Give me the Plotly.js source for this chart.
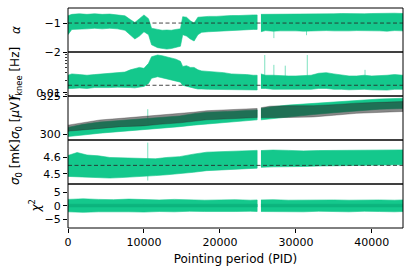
<!DOCTYPE html>
<html>
<head>
<meta charset="utf-8">
<script src="https://cdn.plot.ly/plotly-3.0.1.min.js"></script>
<style>html,body{margin:0;padding:0;background:#fff;}#chart{width:412px;height:273px;}</style>
</head>
<body>
<div id="chart"></div>
<script>
// ---------- DATA ----------
// x ticks
const xTickVals = [0, 10000, 20000, 30000, 40000];
const xTickText = ['0', '10000', '20000', '30000', '40000'];

// Panel 1 & 2 sample PIDs (segment before and after the gap near PID 25000)
const pidA = [0, 500, 1500, 2500, 3500, 4500, 5500, 6500, 7500, 8200, 8800, 9400, 10000, 10600, 11000, 11800, 12400, 13000, 13600, 14200, 14800, 15100, 15600, 16100, 16600, 17100, 17600, 18500, 19500, 20500, 21500, 22500, 23500, 24400, 24900];
const pidB = [25400, 26000, 27000, 28000, 29000, 30000, 31000, 32000, 33000, 34000, 35000, 36000, 37000, 38000, 39000, 40000, 41000, 42000, 43000, 44100];

// alpha envelope
const alphaHiA = [-0.75, -0.70, -0.68, -0.70, -0.68, -0.70, -0.69, -0.72, -0.75, -0.88, -0.98, -0.85, -0.72, -0.85, -1.18, -1.22, -1.25, -1.24, -1.25, -1.22, -1.20, -0.78, -0.80, -0.92, -1.00, -0.80, -0.78, -0.77, -0.77, -0.75, -0.74, -0.74, -0.72, -0.72, -0.72];
const alphaLoA = [-1.40, -1.22, -1.20, -1.20, -1.18, -1.20, -1.18, -1.20, -1.25, -1.40, -1.55, -1.45, -1.30, -1.40, -1.75, -1.85, -1.88, -1.90, -1.88, -1.85, -1.80, -1.40, -1.45, -1.55, -1.62, -1.40, -1.32, -1.30, -1.28, -1.26, -1.25, -1.24, -1.23, -1.22, -1.22];
const alphaHiB = [-0.70, -0.70, -0.68, -0.68, -0.70, -0.69, -0.68, -0.70, -0.68, -0.70, -0.68, -0.67, -0.68, -0.67, -0.68, -0.67, -0.66, -0.67, -0.66, -0.67];
const alphaLoB = [-1.30, -1.26, -1.28, -1.27, -1.26, -1.27, -1.28, -1.28, -1.27, -1.26, -1.27, -1.28, -1.27, -1.26, -1.27, -1.26, -1.27, -1.28, -1.26, -1.27];
const alphaRef = -1.0;
const alphaSpikePid = [27100, 31400];
const alphaSpikeFrom = [-1.1, -1.1];
const alphaSpikeTo = [-1.52, -1.42];

// f_knee envelope [Hz]
const fHiA = [0.026, 0.028, 0.027, 0.026, 0.027, 0.028, 0.028, 0.029, 0.031, 0.035, 0.038, 0.040, 0.038, 0.050, 0.072, 0.079, 0.076, 0.071, 0.066, 0.063, 0.056, 0.042, 0.044, 0.040, 0.040, 0.035, 0.033, 0.032, 0.032, 0.030, 0.028, 0.028, 0.027, 0.026, 0.026];
const fLoA = [0.0126, 0.0126, 0.0129, 0.0126, 0.0132, 0.0132, 0.0132, 0.0135, 0.0135, 0.0132, 0.0130, 0.0135, 0.0141, 0.0166, 0.022, 0.024, 0.0234, 0.0219, 0.020, 0.019, 0.0178, 0.0150, 0.0140, 0.0135, 0.0128, 0.0122, 0.0122, 0.0120, 0.0118, 0.0118, 0.0116, 0.0118, 0.0116, 0.0116, 0.0116];
const fHiB = [0.028, 0.026, 0.026, 0.025, 0.025, 0.025, 0.026, 0.026, 0.029, 0.030, 0.028, 0.026, 0.025, 0.025, 0.026, 0.025, 0.025, 0.026, 0.027, 0.026];
const fLoB = [0.0126, 0.0126, 0.0120, 0.0117, 0.0117, 0.0120, 0.0120, 0.0120, 0.0126, 0.0126, 0.0120, 0.0120, 0.0117, 0.0117, 0.0120, 0.0117, 0.0115, 0.0115, 0.0120, 0.0120];
const fRef = 0.015;
const fSpikePid = [25900, 27100, 28600, 31500, 39100];
const fSpikeFrom = [0.02, 0.02, 0.02, 0.02, 0.02];
const fSpikeTo = [0.079, 0.046, 0.044, 0.079, 0.035];

// sigma0 [uV]: green and grey series
const pid3A = [0, 2000, 4200, 7000, 9900, 12000, 14700, 16500, 18250, 21000, 23000, 24900];
const pid3B = [25400, 26600, 29000, 32300, 35000, 38000, 41000, 44100];
const uvGreenLoA = [298.5, 299.5, 300.7, 302.0, 303.0, 304.0, 305.0, 306.0, 307.0, 308.0, 308.8, 309.5];
const uvGreenHiA = [304.5, 306.5, 308.0, 309.0, 310.0, 311.0, 312.0, 313.5, 314.5, 315.0, 315.5, 316.0];
const uvGreenLoB = [309.5, 310.0, 311.5, 313.0, 314.2, 315.5, 316.5, 317.0];
const uvGreenHiB = [317.0, 318.0, 319.2, 320.4, 321.5, 322.6, 323.2, 323.7];
const uvGreyLoA = [302.0, 303.0, 304.0, 305.0, 305.5, 306.5, 307.5, 308.5, 309.5, 310.0, 310.5, 311.0];
const uvGreyHiA = [306.0, 307.8, 309.4, 310.5, 311.6, 312.5, 313.8, 314.5, 315.5, 316.0, 316.5, 317.0];
const uvGreyLoB = [311.0, 311.0, 311.0, 311.4, 312.5, 313.8, 314.5, 315.0];
const uvGreyHiB = [317.5, 318.5, 318.8, 318.8, 319.5, 320.5, 321.0, 321.5];
const uvSpikePid = [10500];
const uvSpikeFrom = [305];
const uvSpikeTo = [316.5];

// sigma0 [mK]
const pid4A = [0, 1200, 2500, 4000, 5500, 7000, 8500, 10000, 11500, 13000, 14700, 16500, 18250, 20000, 22000, 24900];
const pid4B = [25400, 27000, 29000, 31000, 33000, 35000, 37000, 39000, 41000, 44100];
const mkLoA = [4.485, 4.480, 4.480, 4.478, 4.475, 4.478, 4.480, 4.485, 4.490, 4.495, 4.500, 4.510, 4.520, 4.525, 4.530, 4.535];
const mkHiA = [4.612, 4.630, 4.615, 4.610, 4.600, 4.598, 4.595, 4.590, 4.592, 4.600, 4.605, 4.620, 4.632, 4.635, 4.640, 4.643];
const mkLoB = [4.540, 4.543, 4.545, 4.545, 4.548, 4.550, 4.552, 4.553, 4.555, 4.556];
const mkHiB = [4.642, 4.645, 4.643, 4.640, 4.642, 4.643, 4.645, 4.645, 4.644, 4.646];
const mkRef = 4.552;
const mkSpikePid = [10500];
const mkSpikeFrom = [4.46];
const mkSpikeTo = [4.69];

// chi^2
const pid5A = [0, 2000, 4000, 6000, 8000, 10000, 12000, 14000, 16000, 18000, 20000, 22000, 24000, 24900];
const pid5B = [25400, 27000, 29000, 31000, 33000, 35000, 37000, 39000, 41000, 43000, 44100];
const chiHiA = [2.4, 2.6, 2.4, 2.3, 2.5, 2.3, 2.2, 2.4, 2.2, 2.1, 2.2, 2.3, 2.1, 2.2];
const chiLoA = [-2.2, -2.4, -2.2, -2.1, -2.2, -2.3, -2.1, -2.2, -2.0, -2.1, -2.2, -2.1, -2.0, -2.1];
const chiHiB = [2.2, 2.3, 2.1, 2.2, 2.1, 2.2, 2.1, 2.2, 2.2, 2.1, 2.2];
const chiLoB = [-2.1, -2.0, -2.1, -2.2, -2.0, -2.1, -2.2, -2.0, -2.1, -2.2, -2.1];
const chiCoreHiA = [0.6, 0.7, 0.6, 0.6, 0.7, 0.6, 0.6, 0.6, 0.6, 0.6, 0.6, 0.6, 0.6, 0.6];
const chiCoreLoA = [-0.4, -0.5, -0.4, -0.4, -0.4, -0.5, -0.4, -0.4, -0.4, -0.4, -0.4, -0.4, -0.4, -0.4];
const chiCoreHiB = [0.6, 0.6, 0.6, 0.6, 0.6, 0.6, 0.6, 0.6, 0.6, 0.6, 0.6];
const chiCoreLoB = [-0.4, -0.4, -0.4, -0.4, -0.4, -0.4, -0.4, -0.4, -0.4, -0.4, -0.4];

// ---------- DRAWING ----------
const GREEN = 'rgb(20,200,140)';
const GREEN_LIGHT = 'rgba(20,200,140,0.55)';
const GREEN_CORE = 'rgb(12,180,125)';
const GREY = 'rgba(40,40,40,0.55)';
const DASH = 'rgba(40,40,40,0.85)';

function band(xs, lo, hi, ax, color) {
  const x = xs.concat(xs.slice().reverse());
  const y = hi.concat(lo.slice().reverse());
  return {type: 'scatter', mode: 'lines', x: x, y: y, xaxis: 'x', yaxis: ax,
    fill: 'toself', fillcolor: color, line: {color: color, width: 0.6}, hoverinfo: 'skip'};
}
function spikes(pids, from, to, ax, color) {
  const x = [], y = [];
  pids.forEach((p, i) => { x.push(p, p, null); y.push(from[i], to[i], null); });
  return {type: 'scatter', mode: 'lines', x: x, y: y, xaxis: 'x', yaxis: ax,
    line: {color: color, width: 1}, hoverinfo: 'skip'};
}
function refLine(val, ax) {
  return {type: 'scatter', mode: 'lines', x: [pidA[0], pidB[pidB.length - 1]], y: [val, val],
    xaxis: 'x', yaxis: ax, line: {color: DASH, width: 1, dash: '4px,2.5px'}, hoverinfo: 'skip'};
}

const traces = [
  band(pidA, alphaLoA, alphaHiA, 'y', GREEN),
  band(pidB, alphaLoB, alphaHiB, 'y', GREEN),
  spikes(alphaSpikePid, alphaSpikeFrom, alphaSpikeTo, 'y', GREEN_LIGHT),
  refLine(alphaRef, 'y'),

  band(pidA, fLoA, fHiA, 'y2', GREEN),
  band(pidB, fLoB, fHiB, 'y2', GREEN),
  spikes(fSpikePid, fSpikeFrom, fSpikeTo, 'y2', GREEN_LIGHT),
  refLine(fRef, 'y2'),

  band(pid3A, uvGreenLoA, uvGreenHiA, 'y3', GREEN),
  band(pid3B, uvGreenLoB, uvGreenHiB, 'y3', GREEN),
  spikes(uvSpikePid, uvSpikeFrom, uvSpikeTo, 'y3', GREEN_LIGHT),
  band(pid3A, uvGreyLoA, uvGreyHiA, 'y3', GREY),
  band(pid3B, uvGreyLoB, uvGreyHiB, 'y3', GREY),

  band(pid4A, mkLoA, mkHiA, 'y4', GREEN),
  band(pid4B, mkLoB, mkHiB, 'y4', GREEN),
  spikes(mkSpikePid, mkSpikeFrom, mkSpikeTo, 'y4', GREEN_LIGHT),
  refLine(mkRef, 'y4'),

  band(pid5A, chiLoA, chiHiA, 'y5', GREEN),
  band(pid5B, chiLoB, chiHiB, 'y5', GREEN),
  band(pid5A, chiCoreLoA, chiCoreHiA, 'y5', GREEN_CORE),
  band(pid5B, chiCoreLoB, chiCoreHiB, 'y5', GREEN_CORE)
];

const FONT = {family: 'DejaVu Sans', size: 11, color: '#000'};
const TITLE_FONT = {family: 'DejaVu Sans', size: 12, color: '#000'};
function yax(domain, range, tickvals, ticktext, extra) {
  return Object.assign({
    domain: domain, range: range, anchor: 'x', tickmode: 'array', tickvals: tickvals, ticktext: ticktext,
    ticks: 'outside', ticklen: 4, tickwidth: 1, tickcolor: '#000', showgrid: false, zeroline: false,
    showline: false, fixedrange: true, tickfont: FONT
  }, extra || {});
}

const doms = [[0.8, 1.0], [0.6, 0.8], [0.4, 0.6], [0.2, 0.4], [0.0, 0.2]];
const shapes = doms.map(d => ({type: 'rect', xref: 'paper', yref: 'paper', x0: 0, x1: 1, y0: d[0], y1: d[1],
  line: {color: '#000', width: 1}, fillcolor: 'rgba(0,0,0,0)', layer: 'above'}));

function ytitle(text, dom, xp) {
  return {text: text, xref: 'paper', yref: 'paper', x: xp, y: (dom[0] + dom[1]) / 2,
    xanchor: 'center', yanchor: 'middle', textangle: -90, showarrow: false, font: TITLE_FONT};
}

const layout = {
  width: 412, height: 273,
  margin: {l: 68, r: 9, t: 8, b: 45, pad: 0},
  paper_bgcolor: '#fff', plot_bgcolor: '#fff',
  showlegend: false,
  font: FONT,
  xaxis: {domain: [0, 1], anchor: 'y5', range: [0, 44100], tickmode: 'array', tickvals: xTickVals, ticktext: xTickText,
    ticks: 'outside', ticklen: 4, tickwidth: 1, tickcolor: '#000', showgrid: false, zeroline: false, showline: false,
    fixedrange: true, tickfont: FONT, title: {text: 'Pointing period (PID)', font: TITLE_FONT, standoff: 6}},
  yaxis: yax(doms[0], [-2.0, -0.48], [-2, -1], ['\u22122', '\u22121']),
  yaxis2: yax(doms[1], [-2.08, -1.03], [0.01], ['0.01'], {type: 'log',
    minor: {tickvals: [0.009, 0.02, 0.03, 0.04, 0.05, 0.06, 0.07, 0.08, 0.09], ticks: 'outside', ticklen: 2, tickcolor: '#000', tickwidth: 0.8, showgrid: false}}),
  yaxis3: yax(doms[2], [296.2, 325.2], [300, 325], ['300', '325']),
  yaxis4: yax(doms[3], [4.439, 4.706], [4.5, 4.6], ['4.5', '4.6']),
  yaxis5: yax(doms[4], [-8.2, 8.1], [-5, 0, 5], ['\u22125', '0', '5']),
  shapes: shapes,
  annotations: [
    ytitle('<i>α</i>', doms[0], -0.155),
    ytitle('<i>f</i><sub>knee</sub> [Hz]', doms[1], -0.155),
    ytitle('<i>σ</i><sub>0</sub> [<i>μ</i>V]', doms[2], -0.155),
    ytitle('<i>σ</i><sub>0</sub> [mK]', doms[3], -0.155),
    ytitle('<i>χ</i><sup>2</sup>', doms[4], -0.1)
  ]
};

Plotly.newPlot('chart', traces, layout, {staticPlot: true, displayModeBar: false});
</script>
</body>
</html>
